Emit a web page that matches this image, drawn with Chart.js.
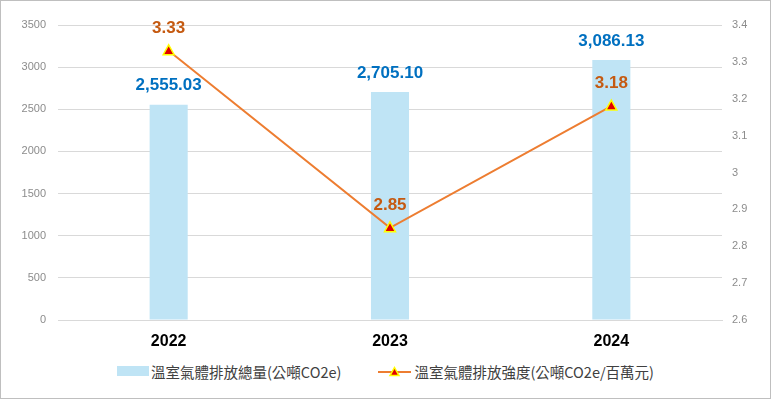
<!DOCTYPE html>
<html>
<head>
<meta charset="utf-8">
<script src="https://cdn.jsdelivr.net/npm/chart.js@4"></script>
<style>
    html, body { margin: 0; padding: 0; background: #fff; }
    #wrap { width: 771px; height: 399px; box-sizing: border-box; border: 1px solid #bfbfbf; }
    canvas { display: block; }
    #legend {
        display: flex; justify-content: center; align-items: center; gap: 37px;
        height: 45px; padding-bottom: 9px; box-sizing: border-box;
        font: 14.5px "Noto Sans CJK TC", "Noto Sans", sans-serif; color: #404040;
    }
    .item { display: flex; align-items: center; }
    .bar-swatch { width: 32px; height: 10px; background: #bfe4f5; margin-right: 2px; }
    .line-swatch { margin-right: 3px; }
</style>
</head>
<body>
<div id="wrap">
    <canvas id="chart" width="769" height="352"></canvas>
    <div id="legend"></div>
</div>
<script>
const years = ['2022', '2023', '2024'];
const totalEmissions = [2555.03, 2705.10, 3086.13];
const intensity = [3.33, 2.85, 3.18];
const totalLabel = '溫室氣體排放總量(公噸CO2e)';
const intensityLabel = '溫室氣體排放強度(公噸CO2e/百萬元)';

const BAR_COLOR = '#bfe4f5';
const LINE_COLOR = '#ed7d31';
const TICK_COLOR = '#8c8c8c';
const GRID_COLOR = '#d9d9d9';
const NUM_FONT = '"Liberation Sans", Arial, sans-serif';

function triangle(g, x, y, size) {
    g.beginPath();
    g.moveTo(x, y - size);
    g.lineTo(x + size, y + size * 0.8);
    g.lineTo(x - size, y + size * 0.8);
    g.closePath();
    g.fillStyle = '#e00000';
    g.fill();
    g.strokeStyle = '#ffff00';
    g.lineWidth = 1.5;
    g.stroke();
}

// HTML legend: bar swatch + line-with-triangle swatch
function buildLegend() {
    const legend = document.getElementById('legend');

    const barItem = document.createElement('div');
    barItem.className = 'item';
    barItem.innerHTML = '<span class="bar-swatch"></span>';
    barItem.appendChild(document.createTextNode(totalLabel));

    const lineItem = document.createElement('div');
    lineItem.className = 'item';
    const c = document.createElement('canvas');
    c.width = 33; c.height = 14;
    c.className = 'line-swatch';
    const g = c.getContext('2d');
    g.strokeStyle = LINE_COLOR;
    g.lineWidth = 2;
    g.beginPath();
    g.moveTo(0, 8);
    g.lineTo(33, 8);
    g.stroke();
    triangle(g, 16.5, 8, 4.5);
    lineItem.appendChild(c);
    lineItem.appendChild(document.createTextNode(intensityLabel));

    legend.appendChild(barItem);
    legend.appendChild(lineItem);
}

// Value labels above bars and line points
const valueLabels = {
    id: 'valueLabels',
    afterDatasetsDraw(chart) {
        const { ctx } = chart;
        ctx.save();
        ctx.textAlign = 'center';
        ctx.textBaseline = 'middle';
        ctx.font = 'bold 17px ' + NUM_FONT;

        chart.getDatasetMeta(0).data.forEach((bar, i) => {
            ctx.fillStyle = '#0070c0';
            ctx.fillText(totalEmissions[i].toLocaleString('en-US', { minimumFractionDigits: 2 }), bar.x, bar.y - 19);
        });
        chart.getDatasetMeta(1).data.forEach((pt, i) => {
            ctx.fillStyle = '#c55a11';
            ctx.fillText(intensity[i].toFixed(2), pt.x, pt.y - 23);
        });
        ctx.restore();
    }
};

// Triangle markers drawn on top of the line
const markers = {
    id: 'markers',
    afterDatasetsDraw(chart) {
        const { ctx } = chart;
        ctx.save();
        chart.getDatasetMeta(1).data.forEach(pt => triangle(ctx, pt.x, pt.y - 0.5, 5.5));
        ctx.restore();
    }
};

buildLegend();

new Chart(document.getElementById('chart'), {
    data: {
        labels: years,
        datasets: [{
            type: 'bar',
            label: totalLabel,
            data: totalEmissions,
            backgroundColor: BAR_COLOR,
            barPercentage: 0.172,
            categoryPercentage: 1,
            yAxisID: 'y',
            order: 2
        }, {
            type: 'line',
            label: intensityLabel,
            data: intensity,
            borderColor: LINE_COLOR,
            borderWidth: 2,
            pointRadius: 0,
            tension: 0,
            yAxisID: 'y1',
            order: 1
        }]
    },
    options: {
        responsive: false,
        animation: false,
        layout: { padding: { top: 24, left: 0, right: 0, bottom: 2 } },
        plugins: {
            tooltip: { enabled: false },
            legend: { display: false }
        },
        scales: {
            x: {
                grid: { display: false, drawTicks: false },
                border: { display: true, color: GRID_COLOR },
                ticks: { color: '#000', font: { family: NUM_FONT, size: 16, weight: 'bold' }, padding: 12 },
                afterFit: s => { s.height = 31; }
            },
            y: {
                position: 'left',
                min: 0,
                max: 3500,
                ticks: { stepSize: 500, color: TICK_COLOR, font: { family: NUM_FONT, size: 11 }, padding: 12, callback: v => String(v) },
                grid: { color: GRID_COLOR, drawTicks: false },
                border: { display: false },
                afterFit: s => { s.width = 57; }
            },
            y1: {
                position: 'right',
                min: 2.6,
                max: 3.4,
                ticks: { stepSize: 0.1, color: TICK_COLOR, font: { family: NUM_FONT, size: 11 }, padding: 10, callback: v => String(Number(v.toFixed(1))) },
                grid: { display: false, drawTicks: false },
                border: { display: false },
                afterFit: s => { s.width = 48; }
            }
        }
    },
    plugins: [markers, valueLabels]
});
</script>
</body>
</html>
